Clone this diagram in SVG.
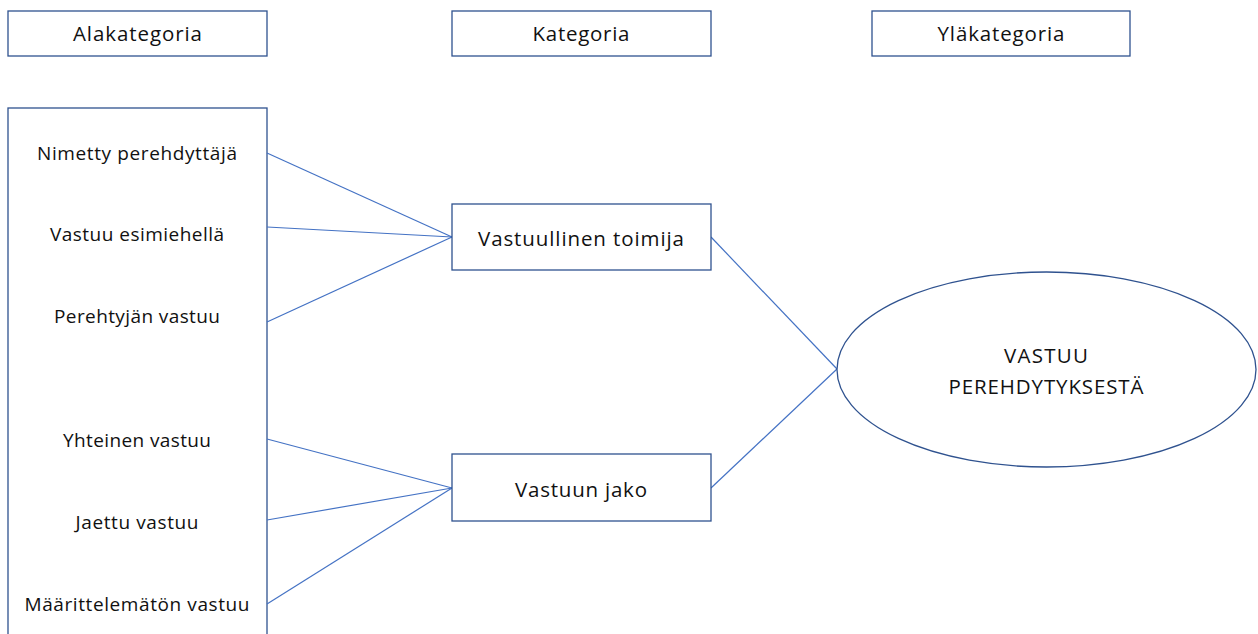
<svg xmlns="http://www.w3.org/2000/svg" width="1258" height="634" viewBox="0 0 1258 634">
<style>
.box{fill:#fff;stroke:#2F528F;stroke-width:1.3}
.t{font-family:"Open Sans","Liberation Sans",Arial,sans-serif;fill:#111;text-anchor:middle}
.h{font-size:20.5px}
.s{font-size:19px}
.m{font-size:20.5px}
.e{font-size:20.5px}
.c line{stroke:#4472C4;stroke-width:1.2}
</style>
<rect width="1258" height="634" fill="#fff"/>
<g id="h-ala"><rect class="box" x="8" y="11" width="259" height="45"/><text class="t h" x="137.5" y="41" textLength="129">Alakategoria</text></g>
<g id="h-kat"><rect class="box" x="452" y="11" width="259" height="45"/><text class="t h" x="581" y="41" textLength="97">Kategoria</text></g>
<g id="h-yla"><rect class="box" x="872" y="11" width="258" height="45"/><text class="t h" x="1001" y="41" textLength="127">Yläkategoria</text></g>
<g id="alakategoriat"><rect class="box" x="8" y="108" width="259" height="540"/>
<text class="t s" x="137" y="160" textLength="200">Nimetty perehdyttäjä</text>
<text class="t s" x="137" y="241" textLength="174">Vastuu esimiehellä</text>
<text class="t s" x="137" y="323" textLength="166">Perehtyjän vastuu</text>
<text class="t s" x="137" y="447" textLength="148">Yhteinen vastuu</text>
<text class="t s" x="137" y="529" textLength="123">Jaettu vastuu</text>
<text class="t s" x="137" y="611" textLength="225">Määrittelemätön vastuu</text>
</g>
<g class="c" id="connectors">
<line x1="267" y1="153" x2="452" y2="237"/>
<line x1="267" y1="227" x2="452" y2="237"/>
<line x1="267" y1="322" x2="452" y2="237"/>
<line x1="267" y1="439" x2="452" y2="488"/>
<line x1="267" y1="520" x2="452" y2="488"/>
<line x1="267" y1="604" x2="452" y2="488"/>
<line x1="711" y1="237" x2="837" y2="369"/>
<line x1="711" y1="488" x2="837" y2="369"/>
</g>
<g id="vastuullinen"><rect class="box" x="452" y="204" width="259" height="66"/><text class="t m" x="581" y="246" textLength="206">Vastuullinen toimija</text></g>
<g id="jako"><rect class="box" x="452" y="454" width="259" height="67"/><text class="t m" x="581" y="497" textLength="132">Vastuun jako</text></g>
<g id="vastuu"><ellipse class="box" cx="1046.5" cy="369.5" rx="209.5" ry="97.5"/><text class="t e" x="1046" y="363" textLength="84">VASTUU</text><text class="t e" x="1046" y="394" textLength="195">PEREHDYTYKSESTÄ</text></g>
</svg>
